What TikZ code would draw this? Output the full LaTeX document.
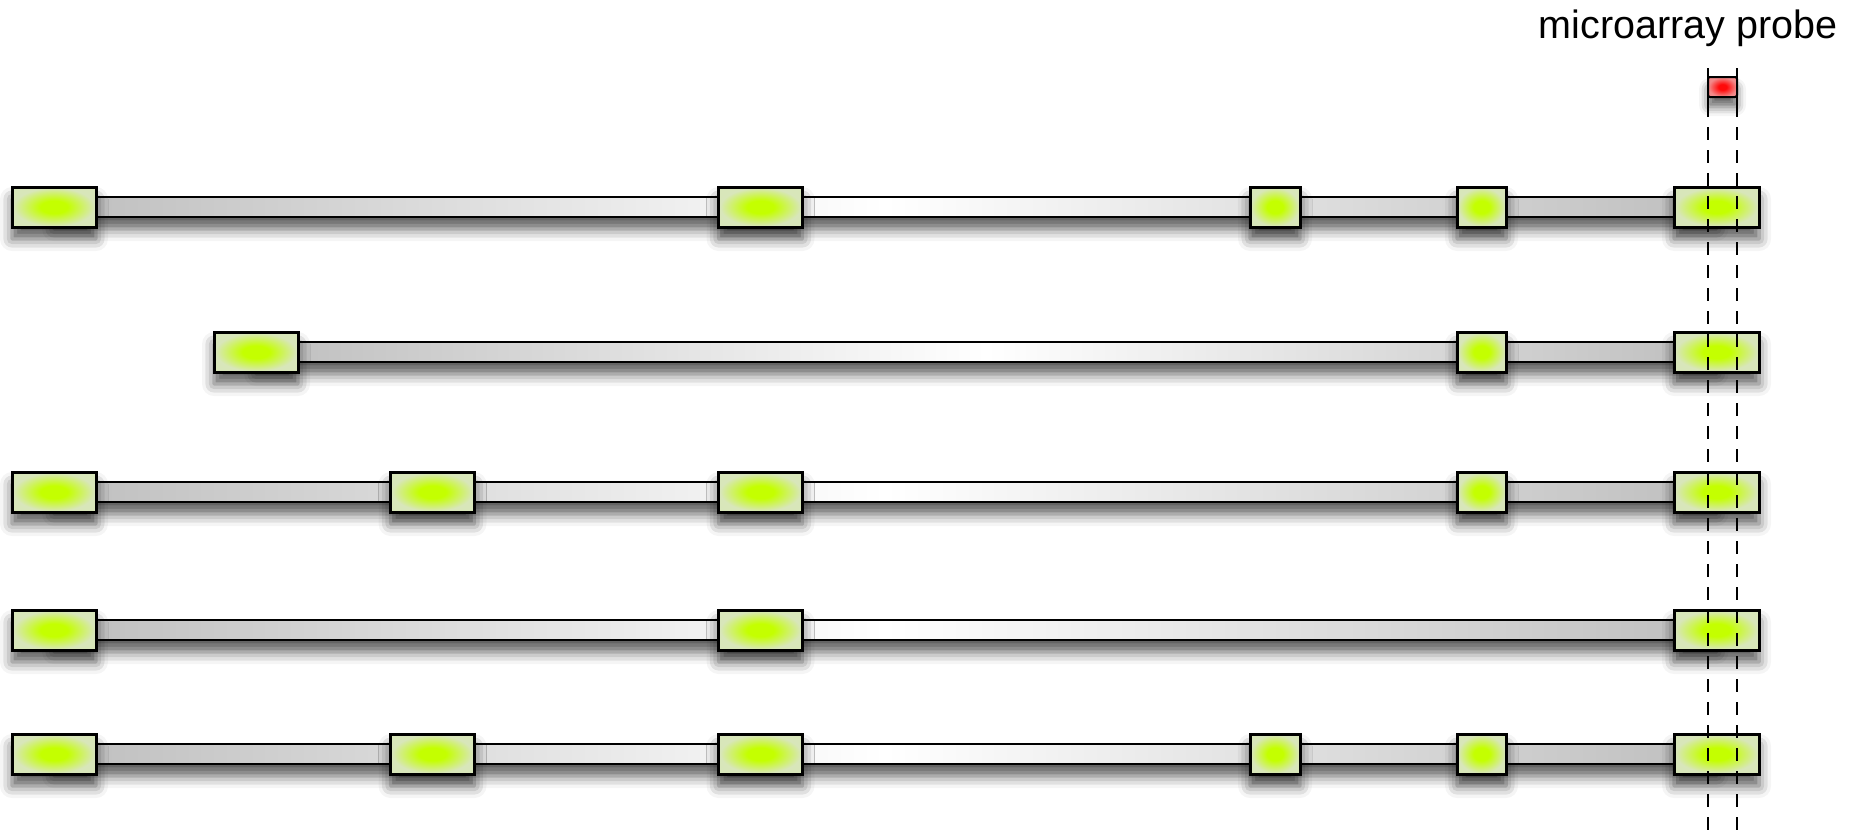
\documentclass[tikz,border=0pt]{standalone}
\usepackage{fontspec}
\setmainfont{Liberation Sans}
\usetikzlibrary{shadows.blur}
\definecolor{exonin}{HTML}{C4FF00}
\definecolor{exonout}{HTML}{D8E6BA}
\definecolor{intronend}{HTML}{BEBEBE}
\definecolor{probein}{HTML}{FF0A0A}
\definecolor{probeout}{HTML}{F28A8A}
\pgfdeclareradialshading{exonshade}{\pgfpoint{0bp}{0bp}}{color(0bp)=(exonin); color(8bp)=(exonin); color(24bp)=(exonout); color(50bp)=(exonout)}
\pgfdeclareradialshading{probeshade}{\pgfpoint{0bp}{0bp}}{color(0bp)=(probein); color(7bp)=(probein); color(24bp)=(probeout); color(50bp)=(probeout)}
\tikzset{
  softshadow/.style={blur shadow={shadow xshift=0pt, shadow yshift=-12pt, shadow blur radius=12pt, shadow opacity=65}},
  exon/.style={draw=black, line width=3pt, shading=exonshade,
    minimum height=40pt, inner sep=0pt, softshadow},
  bigexon/.style={exon, minimum width=84pt},
  smallexon/.style={exon, minimum width=50pt},
  intron/.style={draw=black, line width=2.8pt, left color=intronend, right color=intronend, middle color=white, softshadow},
  probebox/.style={draw=black, line width=2pt, shading=probeshade,
    minimum width=29pt, minimum height=20pt, inner sep=0pt, rounded corners=2pt,
    blur shadow={shadow xshift=0pt, shadow yshift=-10pt, shadow blur radius=9pt, shadow opacity=60}},
  probetick/.style={line width=2.2pt},
  guide/.style={line width=2.2pt, dash pattern=on 13pt off 10pt},
  label/.style={font=\fontsize{39.5}{46}\selectfont, anchor=base, inner sep=0pt},
}
\begin{document}
\begin{tikzpicture}[x=1pt, y=-1pt]
\useasboundingbox (0,0) rectangle (1852,839);

% Row 1
\coordinate (r1s) at (54,207);
\coordinate (r1t) at (1716.5,207);
\path[intron] ([yshift=10pt]r1s) rectangle ([yshift=-10pt]r1t);
\node[bigexon] (r1a) at (54,207) {};
\node[bigexon] (r1b) at (760.5,207) {};
\node[smallexon] (r1c) at (1275,207) {};
\node[smallexon, minimum width=49pt] (r1d) at (1481.5,207) {};
\node[bigexon, minimum width=85pt] (r1e) at (1716.5,207) {};

% Row 2
\coordinate (r2s) at (256,352);
\coordinate (r2t) at (1716.5,352);
\path[intron] ([yshift=10pt]r2s) rectangle ([yshift=-10pt]r2t);
\node[bigexon] (r2a) at (256,352) {};
\node[smallexon, minimum width=49pt] (r2b) at (1481.5,352) {};
\node[bigexon, minimum width=85pt] (r2c) at (1716.5,352) {};

% Row 3
\coordinate (r3s) at (54,492);
\coordinate (r3t) at (1716.5,492);
\path[intron] ([yshift=10pt]r3s) rectangle ([yshift=-10pt]r3t);
\node[bigexon] (r3a) at (54,492) {};
\node[bigexon] (r3b) at (432.5,492) {};
\node[bigexon] (r3c) at (760.5,492) {};
\node[smallexon, minimum width=49pt] (r3d) at (1481.5,492) {};
\node[bigexon, minimum width=85pt] (r3e) at (1716.5,492) {};

% Row 4
\coordinate (r4s) at (54,630);
\coordinate (r4t) at (1716.5,630);
\path[intron] ([yshift=10pt]r4s) rectangle ([yshift=-10pt]r4t);
\node[bigexon] (r4a) at (54,630) {};
\node[bigexon] (r4b) at (760.5,630) {};
\node[bigexon, minimum width=85pt] (r4c) at (1716.5,630) {};

% Row 5
\coordinate (r5s) at (54,754);
\coordinate (r5t) at (1716.5,754);
\path[intron] ([yshift=10pt]r5s) rectangle ([yshift=-10pt]r5t);
\node[bigexon] (r5a) at (54,754) {};
\node[bigexon] (r5b) at (432.5,754) {};
\node[bigexon] (r5c) at (760.5,754) {};
\node[smallexon] (r5d) at (1275,754) {};
\node[smallexon, minimum width=49pt] (r5e) at (1481.5,754) {};
\node[bigexon, minimum width=85pt] (r5f) at (1716.5,754) {};

% probe
\node[label] (lbl) at (1688,38) {microarray probe};
\node[probebox] (probe) at (1722.5,87) {};
\coordinate (plt) at (1708,68);
\coordinate (plm) at (1708,104);
\coordinate (plb) at (1708,839);
\coordinate (prt) at (1737,68);
\coordinate (prm) at (1737,104);
\coordinate (prb) at (1737,839);
\draw[probetick] (plt) -- (plm);
\draw[probetick] (prt) -- (prm);
\draw[guide] (plm) -- (plb);
\draw[guide] (prm) -- (prb);
\end{tikzpicture}
\end{document}
